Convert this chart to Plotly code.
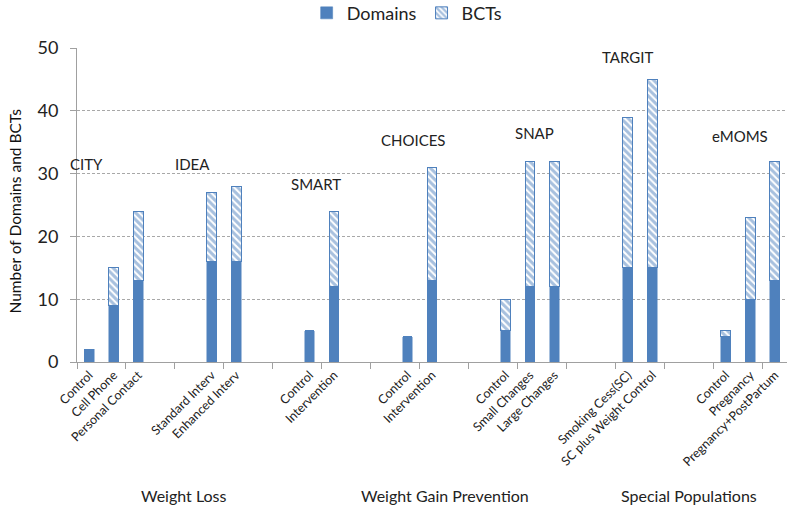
import plotly.graph_objects as go

# ---- data ----
categories = ["Control", "Cell Phone", "Personal Contact", "", "",
              "Standard Interv", "Enhanced Interv", "", "",
              "Control", "Intervention", "", "",
              "Control", "Intervention", "", "",
              "Control", "Small Changes", "Large Changes", "", "",
              "Smoking Cess(SC)", "SC plus Weight Control", "", "",
              "Control", "Pregnancy", "Pregnancy+PostPartum"]
domains = [2, 9, 13, None, None, 16, 16, None, None, 5, 12, None, None,
           4, 13, None, None, 5, 12, 12, None, None, 15, 15, None, None,
           4, 10, 13]
bcts = [0, 6, 11, None, None, 11, 12, None, None, 0, 12, None, None,
        0, 18, None, None, 5, 20, 20, None, None, 24, 30, None, None,
        1, 13, 19]
studies = ["CITY", "IDEA", "SMART", "CHOICES", "SNAP", "TARGIT", "eMOMS"]
groups = ["Weight Loss", "Weight Gain Prevention", "Special Populations"]
y_ticks = [0, 10, 20, 30, 40, 50]

# ---- layout helpers (positions of text labels) ----
study_pos = [(-0.13, 31.5), (4.23, 31.5), (9.25, 28.3), (13.26, 35.3),
             (18.2, 36.5), (22.0, 48.5), (26.6, 36.0)]
group_pos = [3.87, 14.52, 24.5]

BLUE = "#4F81BD"
FONT = "Lato"
x = list(range(len(categories)))

fig = go.Figure()
fig.add_trace(go.Bar(
    x=x, y=domains, name="Domains",
    marker=dict(color=BLUE, line=dict(color=BLUE, width=0.5)),
))
fig.add_trace(go.Bar(
    x=x, y=bcts, name="BCTs",
    marker=dict(color="white", line=dict(color=BLUE, width=1),
                pattern=dict(shape="\\", fgcolor=BLUE, bgcolor="white",
                             size=5, solidity=0.6)),
))

annotations = []
for name, (px, py) in zip(studies, study_pos):
    annotations.append(dict(x=px, y=py, xref="x", yref="y", text=name,
                            xanchor="center", yanchor="middle",
                            showarrow=False, font=dict(family=FONT, size=15, color="#222")))
for name, gx in zip(groups, group_pos):
    annotations.append(dict(x=gx, y=-0.425, xref="x", yref="paper", text=name,
                            xanchor="center", yanchor="middle",
                            showarrow=False, font=dict(family=FONT, size=16, color="#222")))
annotations.append(dict(x=-0.087, y=0.48, xref="paper", yref="paper",
                        text="Number of Domains and BCTs", textangle=-90,
                        xanchor="center", yanchor="middle",
                        showarrow=False, font=dict(family=FONT, size=15.5, color="#111")))

fig.update_layout(
    width=800, height=508,
    margin=dict(l=77, r=12.5, t=48, b=146, autoexpand=False),
    paper_bgcolor="white", plot_bgcolor="white",
    barmode="stack", bargap=0.6,
    font=dict(family=FONT, color="#222"),
    legend=dict(orientation="h", x=0.465, xanchor="center", y=1.111, yanchor="middle",
                font=dict(family=FONT, size=18, color="#222"), traceorder="normal"),
    annotations=annotations,
    xaxis=dict(
        range=[-0.5, len(categories) - 0.5], automargin=False,
        tickmode="array", tickvals=x, ticktext=categories, tickangle=-45,
        tickfont=dict(family=FONT, size=12.5, color="#222"),
        ticks="", showgrid=False, zeroline=False,
        showline=True, linecolor="#A0A0A0", linewidth=1,
        minor=dict(tickmode="array",
                   tickvals=[i - 0.5 for i in range(0, len(categories) + 1, 2)],
                   ticks="outside", ticklen=6, tickcolor="#A0A0A0", showgrid=False),
    ),
    yaxis=dict(
        range=[0, 50], tickvals=y_ticks, automargin=False,
        tickfont=dict(family=FONT, size=18, color="#222"),
        ticks="outside", ticklen=6, tickcolor="#A0A0A0", ticklabelstandoff=8,
        showgrid=True, gridcolor="#A8A8A8", griddash="3px,2px", gridwidth=1,
        zeroline=False, showline=True, linecolor="#A0A0A0", linewidth=1,
    ),
)

# remove the default page margin so the 800x508 figure fills the window exactly
fig.write_html("out.html",
               config={"displayModeBar": False},
               post_script="document.body.style.margin='0';document.body.style.overflow='hidden';")
